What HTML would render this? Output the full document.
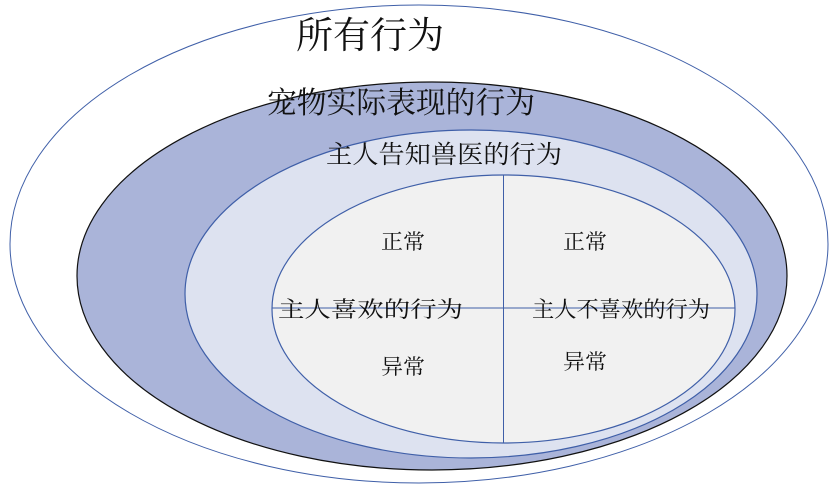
<!DOCTYPE html>
<html><head><meta charset="utf-8"><style>
html,body{margin:0;padding:0;background:#fff;width:832px;height:488px;overflow:hidden}
svg text{font-family:"Liberation Serif","Noto Serif CJK SC","Noto Sans CJK SC",serif;fill:#111}
</style></head><body>
<svg width="832" height="488" viewBox="0 0 832 488" xmlns="http://www.w3.org/2000/svg">
<ellipse cx="419" cy="244" rx="409" ry="239" fill="#fff" stroke="#3f5fa8" stroke-width="1"/>
<ellipse cx="432" cy="276" rx="355" ry="194" fill="#aab4d9" stroke="#111" stroke-width="1.2"/>
<ellipse cx="471" cy="294" rx="286" ry="164" fill="#dde2f0" stroke="#3f5fa8" stroke-width="1.2"/>
<ellipse cx="503.5" cy="309" rx="231.5" ry="134" fill="#f1f1f1" stroke="#3f5fa8" stroke-width="1.2"/>
<line x1="503.5" y1="175" x2="503.5" y2="443" stroke="#3f5fa8" stroke-width="1"/>
<line x1="272" y1="308" x2="735" y2="308" stroke="#3f5fa8" stroke-width="1"/>
<text x="296" y="48" font-size="37" textLength="148" lengthAdjust="spacingAndGlyphs">所有行为</text>
<text x="267" y="113" font-size="30" textLength="268" lengthAdjust="spacingAndGlyphs">宠物实际表现的行为</text>
<text x="326" y="163" font-size="25" textLength="236" lengthAdjust="spacingAndGlyphs">主人告知兽医的行为</text>
<text x="381" y="249" font-size="21" textLength="44" lengthAdjust="spacingAndGlyphs">正常</text>
<text x="563" y="249" font-size="21" textLength="44" lengthAdjust="spacingAndGlyphs">正常</text>
<text x="278" y="317" font-size="22" textLength="185" lengthAdjust="spacingAndGlyphs">主人喜欢的行为</text>
<text x="532" y="317" font-size="22" textLength="178" lengthAdjust="spacingAndGlyphs">主人不喜欢的行为</text>
<text x="381" y="374" font-size="21" textLength="44" lengthAdjust="spacingAndGlyphs">异常</text>
<text x="563" y="369" font-size="21" textLength="44" lengthAdjust="spacingAndGlyphs">异常</text>
</svg>
</body></html>
